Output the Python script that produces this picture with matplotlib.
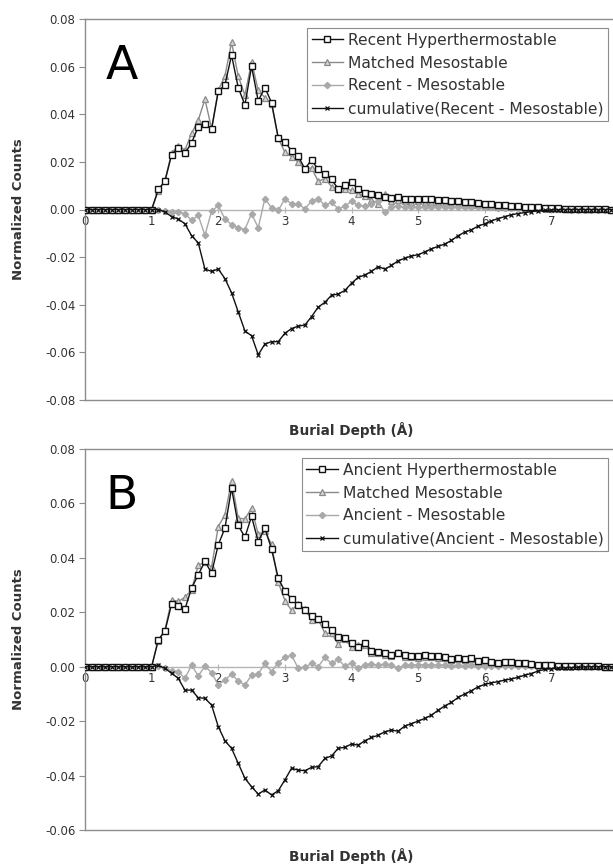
import numpy as np
import matplotlib
matplotlib.use("Agg")
import matplotlib.pyplot as plt

# burial depth bins (A), 0.0 .. 8.0 step 0.1
depth = np.round(np.arange(0, 81) * 0.1, 1)
lead = [0.0] * 11  # 0.0 .. 1.0 are all zero

# ---- panel A : recent ----
hyper_a = lead + [
    0.0084, 0.0119, 0.0230, 0.0260, 0.0236, 0.0280, 0.0348, 0.0358, 0.0337, 0.0496,
    0.0523, 0.0648, 0.0512, 0.0439, 0.0601, 0.0456, 0.0512, 0.0449, 0.0302, 0.0285,
    0.0246, 0.0224, 0.0171, 0.0208, 0.0168, 0.0147, 0.0126, 0.0087, 0.0101, 0.0115,
    0.0084, 0.0070, 0.0063, 0.0059, 0.0053, 0.0049, 0.0053, 0.0045, 0.0042, 0.0045,
    0.0042, 0.0044, 0.0040, 0.0038, 0.0035, 0.0036, 0.0030, 0.0032, 0.0028, 0.0025,
    0.0024, 0.0020, 0.0020, 0.0016, 0.0015, 0.0012, 0.0010, 0.0009, 0.0007, 0.0006,
    0.0005, 0.0004, 0.0003, 0.0003, 0.0002, 0.0002, 0.0001, 0.0001, 0.0, 0.0]
meso_a = lead + [
    0.0078, 0.0122, 0.0238, 0.0268, 0.0250, 0.0320, 0.0375, 0.0463, 0.0340, 0.0500,
    0.0560, 0.0702, 0.0560, 0.0480, 0.0620, 0.0500, 0.0470, 0.0445, 0.0300, 0.0240,
    0.0222, 0.0200, 0.0168, 0.0175, 0.0118, 0.0130, 0.0096, 0.0084, 0.0087, 0.0080,
    0.0067, 0.0056, 0.0039, 0.0024, 0.0064, 0.0037, 0.0038, 0.0035, 0.0030, 0.0035,
    0.0030, 0.0033, 0.0030, 0.0028, 0.0023, 0.0024, 0.0019, 0.0020, 0.0017, 0.0015,
    0.0014, 0.0012, 0.0012, 0.0010, 0.0010, 0.0008, 0.0006, 0.0006, 0.0005, 0.0004,
    0.0004, 0.0003, 0.0003, 0.0003, 0.0002, 0.0002, 0.0001, 0.0001, 0.0, 0.0]
diff_a = lead + [
    0.0000, -0.0007, -0.0012, -0.0010, -0.0018, -0.0045, -0.0025, -0.0108, -0.0007, 0.0017,
    -0.0040, -0.0063, -0.0077, -0.0084, -0.0017, -0.0077, 0.0046, 0.0007, -0.0004, 0.0045,
    0.0024, 0.0024, 0.0003, 0.0035, 0.0046, 0.0017, 0.0030, 0.0003, 0.0014, 0.0035,
    0.0017, 0.0014, 0.0024, 0.0035, -0.0011, 0.0012, 0.0015, 0.0010, 0.0012, 0.0010,
    0.0012, 0.0011, 0.0010, 0.0010, 0.0012, 0.0012, 0.0011, 0.0012, 0.0011, 0.0010,
    0.0010, 0.0008, 0.0008, 0.0006, 0.0005, 0.0004, 0.0004, 0.0003, 0.0002, 0.0002,
    0.0001, 0.0001, 0.0, 0.0, 0.0, 0.0, 0.0, 0.0, 0.0, 0.0]
cum_a = lead + [
    0.0000, -0.0010, -0.0030, -0.0040, -0.0060, -0.0110, -0.0140, -0.0250, -0.0260, -0.0250,
    -0.0290, -0.0350, -0.0430, -0.0510, -0.0530, -0.0610, -0.0565, -0.0555, -0.0555, -0.0520,
    -0.0500, -0.0490, -0.0485, -0.0450, -0.0410, -0.0390, -0.0360, -0.0355, -0.0340, -0.0310,
    -0.0285, -0.0275, -0.0260, -0.0240, -0.0250, -0.0235, -0.0215, -0.0205, -0.0195, -0.0190,
    -0.0178, -0.0165, -0.0155, -0.0145, -0.0130, -0.0110, -0.0095, -0.0085, -0.0070, -0.0060,
    -0.0048, -0.0038, -0.0030, -0.0022, -0.0017, -0.0013, -0.0009, -0.0006, -0.0004, -0.0002,
    -0.0001, 0.0, 0.0, 0.0, 0.0, 0.0, 0.0, 0.0, 0.0, 0.0]

# ---- panel B : ancient ----
hyper_b = lead + [
    0.0099, 0.0130, 0.0231, 0.0222, 0.0212, 0.0289, 0.0338, 0.0387, 0.0344, 0.0448,
    0.0509, 0.0656, 0.0519, 0.0476, 0.0552, 0.0460, 0.0509, 0.0432, 0.0326, 0.0277,
    0.0250, 0.0225, 0.0210, 0.0185, 0.0175, 0.0157, 0.0135, 0.0110, 0.0104, 0.0086,
    0.0074, 0.0088, 0.0059, 0.0055, 0.0052, 0.0043, 0.0050, 0.0043, 0.0040, 0.0040,
    0.0042, 0.0040, 0.0038, 0.0037, 0.0030, 0.0032, 0.0028, 0.0033, 0.0020, 0.0025,
    0.0018, 0.0015, 0.0018, 0.0018, 0.0015, 0.0012, 0.0010, 0.0008, 0.0006, 0.0005,
    0.0004, 0.0003, 0.0002, 0.0002, 0.0001, 0.0001, 0.0001, 0.0, 0.0, 0.0]
meso_b = lead + [
    0.0096, 0.0136, 0.0246, 0.0240, 0.0255, 0.0283, 0.0372, 0.0385, 0.0366, 0.0515,
    0.0558, 0.0683, 0.0546, 0.0543, 0.0583, 0.0487, 0.0497, 0.0450, 0.0311, 0.0243,
    0.0207, 0.0231, 0.0212, 0.0173, 0.0175, 0.0123, 0.0123, 0.0083, 0.0102, 0.0071,
    0.0079, 0.0080, 0.0049, 0.0050, 0.0042, 0.0038, 0.0055, 0.0036, 0.0034, 0.0033,
    0.0035, 0.0034, 0.0032, 0.0031, 0.0026, 0.0027, 0.0024, 0.0027, 0.0018, 0.0021,
    0.0017, 0.0014, 0.0015, 0.0015, 0.0012, 0.0010, 0.0009, 0.0007, 0.0006, 0.0005,
    0.0004, 0.0003, 0.0002, 0.0002, 0.0001, 0.0001, 0.0001, 0.0, 0.0, 0.0]
diff_b = lead + [
    0.0003, -0.0006, -0.0015, -0.0018, -0.0043, 0.0006, -0.0034, 0.0002, -0.0022, -0.0067,
    -0.0049, -0.0027, -0.0053, -0.0067, -0.0031, -0.0027, 0.0012, -0.0018, 0.0015, 0.0034,
    0.0043, -0.0006, -0.0002, 0.0012, 0.0000, 0.0034, 0.0012, 0.0027, 0.0002, 0.0015,
    -0.0005, 0.0008, 0.0010, 0.0005, 0.0010, 0.0005, -0.0005, 0.0007, 0.0006, 0.0007,
    0.0007, 0.0006, 0.0006, 0.0006, 0.0004, 0.0005, 0.0004, 0.0006, 0.0002, 0.0004,
    0.0001, 0.0001, 0.0003, 0.0003, 0.0003, 0.0002, 0.0001, 0.0001, 0.0, 0.0,
    0.0, 0.0, 0.0, 0.0, 0.0, 0.0, 0.0, 0.0, 0.0, 0.0]
cum_b = lead + [
    0.0005, -0.0006, -0.0024, -0.0043, -0.0086, -0.0086, -0.0114, -0.0116, -0.0141, -0.0220,
    -0.0272, -0.0300, -0.0355, -0.0410, -0.0441, -0.0468, -0.0453, -0.0471, -0.0456, -0.0416,
    -0.0373, -0.0380, -0.0382, -0.0370, -0.0367, -0.0337, -0.0328, -0.0300, -0.0296, -0.0284,
    -0.0288, -0.0272, -0.0260, -0.0252, -0.0239, -0.0233, -0.0237, -0.0218, -0.0209, -0.0200,
    -0.0190, -0.0178, -0.0160, -0.0144, -0.0131, -0.0113, -0.0100, -0.0088, -0.0074, -0.0065,
    -0.0059, -0.0055, -0.0049, -0.0045, -0.0039, -0.0031, -0.0025, -0.0016, -0.0010, -0.0007,
    -0.0005, -0.0004, -0.0003, -0.0002, -0.0001, 0.0, 0.0, 0.0, 0.0, 0.0]

labels_a = ["Recent Hyperthermostable", "Matched Mesostable",
            "Recent - Mesostable", "cumulative(Recent - Mesostable)"]
labels_b = ["Ancient Hyperthermostable", "Matched Mesostable",
            "Ancient - Mesostable", "cumulative(Ancient - Mesostable)"]
yticks_a = [-0.08, -0.06, -0.04, -0.02, 0.0, 0.02, 0.04, 0.06, 0.08]
yticks_b = [-0.06, -0.04, -0.02, 0.0, 0.02, 0.04, 0.06, 0.08]
xticks = [0, 1, 2, 3, 4, 5, 6, 7, 8]
xticklabels = ['0', '1', '2', '3', '4', '5', '6', '7', '']  # 8 falls off the edge

plt.rcParams['font.family'] = ['DejaVu Sans']
fig = plt.figure(figsize=(6.13, 8.67), dpi=100)

W, H = 613.0, 867.0
frame = '#8c8c8c'
txt = '#333333'


def panel(rect, letter, series, labels, yticks, xlab_y):
    ax = fig.add_axes(rect)
    hyper, meso, diff, cum = series
    ax.plot(depth, hyper, color='#111111', lw=1.0, marker='s', ms=4.0,
            mfc='white', mec='#111111', mew=1.0, label=labels[0], zorder=4)
    ax.plot(depth, meso, color='#8a8a8a', lw=1.0, marker='^', ms=4.0,
            mfc='#d5d5d5', mec='#8a8a8a', mew=0.9, label=labels[1], zorder=3)
    ax.plot(depth, diff, color='#a9a9a9', lw=1.0, marker='D', ms=3.2,
            mfc='#a9a9a9', mec='#a9a9a9', label=labels[2], zorder=3)
    ax.plot(depth, cum, color='#111111', lw=1.0, marker='x', ms=3.5,
            mew=0.9, label=labels[3], zorder=4)

    ax.set_xlim(0, 8)
    ax.set_ylim(yticks[0], yticks[-1])
    ax.set_yticks(yticks)
    ax.set_yticklabels(['%.2f' % v for v in yticks])
    ax.tick_params(axis='y', direction='out', length=4, width=0.8,
                   color=frame, labelsize=8.5, labelcolor=txt, pad=3)
    ax.set_xticks([])
    for s in ax.spines.values():
        s.set_color(frame)
        s.set_linewidth(1.0)

    # category axis crossing at zero
    loc = -yticks[0] / (yticks[-1] - yticks[0])
    sec = ax.secondary_xaxis(loc)
    sec.set_alignment('bottom')
    sec.set_xticks(xticks)
    sec.set_xticklabels(xticklabels)
    for s in sec.spines.values():
        s.set_color('#b5b5b5')
        s.set_linewidth(1.0)
    sec.tick_params(axis='x', direction='inout', length=5, width=0.8,
                    color='#b5b5b5', labelsize=8.5, labelcolor=txt, pad=1.5)

    ax.set_ylabel('Normalized Counts', fontsize=9.5, fontweight='bold', color=txt)
    ax.yaxis.set_label_coords(-0.113, 0.5)
    ax.text(0.5, xlab_y, 'Burial Depth (Å)', transform=ax.transAxes,
            ha='center', va='center', fontsize=9.8, fontweight='bold', color=txt)
    ax.text(0.038, 0.842, letter, transform=ax.transAxes, fontsize=34,
            color='black', ha='left', va='baseline')

    leg = ax.legend(loc='upper right', bbox_to_anchor=(0.982, 0.976),
                    fontsize=11.2, frameon=True, fancybox=False, framealpha=1,
                    edgecolor=frame, handlelength=2.0, handletextpad=0.35,
                    labelspacing=0.5, borderpad=0.3, borderaxespad=0.0)
    leg.get_frame().set_linewidth(0.8)
    for t in leg.get_texts():
        t.set_color(txt)
    return ax


ax_a = panel([85 / W, 1 - 400 / H, 533 / W, 381 / H], 'A',
             (hyper_a, meso_a, diff_a, cum_a), labels_a, yticks_a, -0.079)
ax_b = panel([85 / W, 1 - 830 / H, 533 / W, 381 / H], 'B',
             (hyper_b, meso_b, diff_b, cum_b), labels_b, yticks_b, -0.068)

fig.savefig('out.png', dpi=100)
